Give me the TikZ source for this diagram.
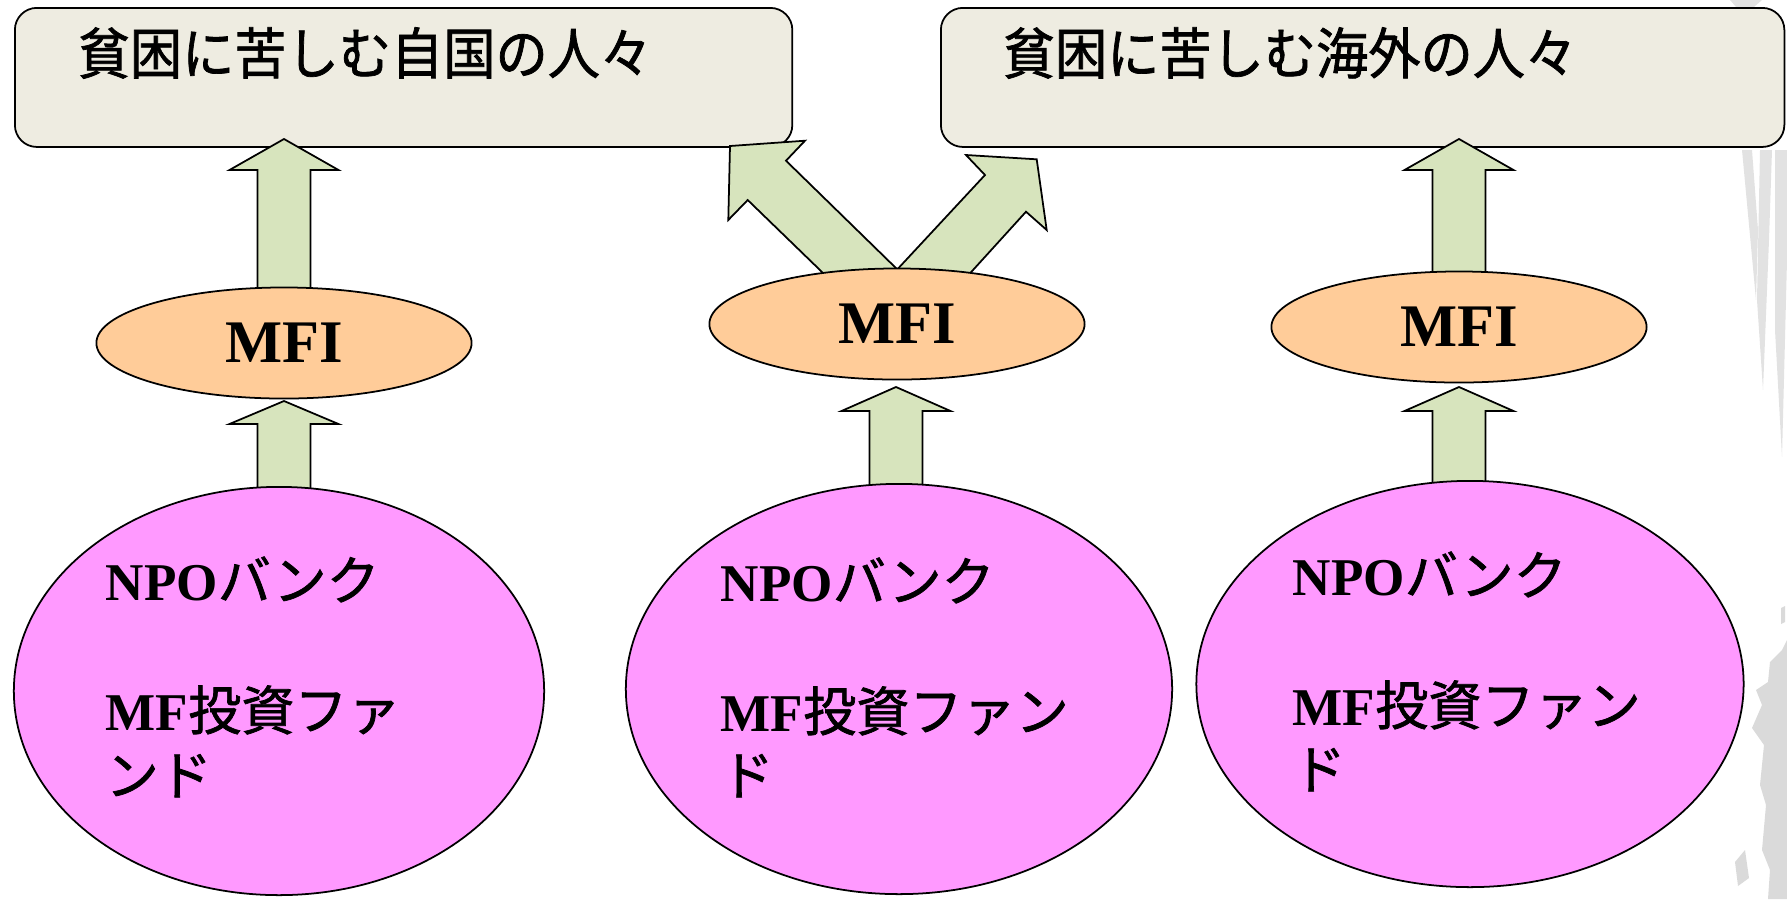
\documentclass[tikz,border=0pt]{standalone}
\usepackage{fontspec}
\newfontfamily\jpf{Noto Sans CJK JP}[FakeBold=1.3]
\newfontfamily\jpt{Noto Sans CJK JP}[FakeBold=1.3,FakeStretch=0.94]
\newfontfamily\serf{Liberation Serif}
\usetikzlibrary{shapes.geometric}
\definecolor{boxfill}{HTML}{EEECE1}
\definecolor{arrfill}{HTML}{D7E4BD}
\definecolor{mfifill}{HTML}{FFCC99}
\definecolor{pinkfill}{HTML}{FF99FF}
\definecolor{grungec}{HTML}{DADADA}
\definecolor{grungel}{HTML}{E2E2E2}
\tikzset{
  topbox/.style={draw=black, fill=boxfill, line width=0.5pt, rounded corners=0.22cm, inner sep=0, anchor=north west, minimum height=1.39cm},
  blockarrow/.style={draw=black, fill=arrfill, line width=0.5pt, line join=miter},
  mfi/.style={ellipse, draw=black, fill=mfifill, line width=0.5pt, minimum width=3.75cm, minimum height=1.11cm, inner sep=0, font=\serf\bfseries\fontsize{17.2pt}{20pt}\selectfont},
  fund/.style={ellipse, draw=black, fill=pinkfill, line width=0.5pt, inner sep=0},
  titletext/.style={anchor=base west, inner sep=0, font=\jpt\fontsize{15.8pt}{20pt}\selectfont},
  fundtext/.style={anchor=base west, inner sep=0, font=\jpf\fontsize{15.1pt}{18pt}\selectfont},
  grunge/.style={fill=grungec, draw=none},
  grungelight/.style={fill=grungel, draw=none},
}
\newcommand\latbf[1]{{\serf\bfseries #1}}
% x centre, tip y, head base y, bottom y
\newcommand\upblk[4]{%
  \draw[blockarrow] (#1-26.5,#4) -- (#1-26.5,#3) -- (#1-54.5,#3) -- (#1,#2)
    -- (#1+54.5,#3) -- (#1+26.5,#3) -- (#1+26.5,#4) -- cycle;}
\begin{document}
\begin{tikzpicture}[x=0.01cm, y=-0.01cm]
\useasboundingbox (0,0) rectangle (1787,899);
% background grunge on the right edge
\fill[grungelight] (1730,0) -- (1762,0) -- (1754,7) -- (1736,7) -- cycle;
\fill[grungelight] (1742,150) -- (1752,150) -- (1758,230) -- (1756,300) -- cycle;
\fill[grungelight] (1760,150) -- (1772,150) -- (1769,240) -- (1763,390) -- (1757,300) -- cycle;
\fill[grungelight] (1775,150) -- (1787,150) -- (1787,260) -- (1782,457) -- (1775,330) -- cycle;
\fill[grunge] (1781,608) -- (1785,606) -- (1785,622) -- (1781,624) -- cycle;
\fill[grunge] (1787,640) -- (1787,899) -- (1768,899) -- (1770,870) -- (1762,850) -- (1766,805)
  -- (1760,785) -- (1764,745) -- (1752,728) -- (1762,705) -- (1756,690) -- (1768,682)
  -- (1770,662) -- (1782,650) -- cycle;
\fill[grunge] (1735,862) -- (1745,850) -- (1749,878) -- (1738,886) -- cycle;
% top boxes
\node[topbox, minimum width=7.77cm] (boxL) at (14,7) {};
\node[topbox, minimum width=8.43cm] (boxR) at (940,7) {};
\node[titletext] (titleL) at (77,74) {貧困に苦しむ自国の人々};
\node[titletext] (titleR) at (1002,74) {貧困に苦しむ海外の人々};
% block arrows
\upblk{284}{139}{170}{330}
\upblk{284}{401}{424}{500}
\upblk{896}{387}{411}{500}
\upblk{1459}{139}{170}{320}
\upblk{1459}{387}{411}{500}
\draw[blockarrow] (832,281.7) -- (747.7,200) -- (728.3,220) -- (730,146) -- (805,140.7)
  -- (786,160.7) -- (900,272) -- cycle;
\draw[blockarrow] (893,274) -- (985,175) -- (966,155) -- (1036.7,159.3) -- (1046.7,230)
  -- (1026,211.7) -- (962.4,281.7) -- cycle;
% MFI ellipses
\node[mfi] (mfiL) at (284,343) {MFI};
\node[mfi] (mfiM) at (897,324) {MFI};
\node[mfi] (mfiR) at (1459,327) {MFI};
% fund ellipses
\node[fund, minimum width=5.30cm, minimum height=4.08cm] (fundL) at (279,691) {};
\node[fund, minimum width=5.46cm, minimum height=4.10cm] (fundM) at (899,689) {};
\node[fund, minimum width=5.47cm, minimum height=4.06cm] (fundR) at (1470,684) {};
% fund texts
\node[fundtext] (npoL) at (105,600) {\latbf{NPO}バンク};
\node[fundtext] (mfL)  at (105,730) {\latbf{MF}投資ファ};
\node[fundtext] (ndL)  at (105,795) {ンド};
\node[fundtext] (npoM) at (720,601) {\latbf{NPO}バンク};
\node[fundtext] (mfM)  at (720,731) {\latbf{MF}投資ファン};
\node[fundtext] (ndM)  at (720,795) {ド};
\node[fundtext] (npoR) at (1292,595) {\latbf{NPO}バンク};
\node[fundtext] (mfR)  at (1292,725) {\latbf{MF}投資ファン};
\node[fundtext] (ndR)  at (1292,789) {ド};
\end{tikzpicture}
\end{document}
